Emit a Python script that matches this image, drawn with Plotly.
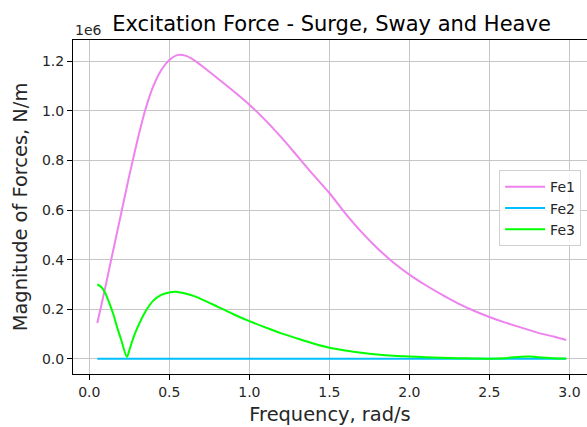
import plotly.graph_objects as go

# Data; forces in N/m
freq = [0.05, 0.075, 0.1, 0.125, 0.15, 0.175, 0.2, 0.235, 0.25, 0.275, 0.3, 0.35, 0.4, 0.45,
        0.5, 0.55, 0.6, 0.65, 0.7, 0.8, 0.9, 1.0, 1.1, 1.2, 1.3, 1.4, 1.5, 1.6, 1.7, 1.8,
        1.9, 2.0, 2.1, 2.2, 2.3, 2.4, 2.5, 2.6, 2.7, 2.75, 2.8, 2.9, 2.98]

fe1_e6 = [0.145, 0.215, 0.29, 0.365, 0.44, 0.515, 0.59, 0.695, 0.74, 0.81, 0.88, 1.005, 1.10, 1.165,
          1.205, 1.225, 1.223, 1.207, 1.183, 1.132, 1.08, 1.025, 0.963, 0.893, 0.818, 0.742, 0.669, 0.587, 0.512, 0.446,
          0.389, 0.34, 0.298, 0.26, 0.225, 0.195, 0.169, 0.146, 0.126, 0.116, 0.106, 0.09, 0.076]

fe2_e6 = [0.0] * len(freq)

fe3_e6 = [0.30, 0.29, 0.265, 0.225, 0.18, 0.125, 0.075, 0.008, 0.035, 0.085, 0.125, 0.19, 0.235, 0.258,
          0.268, 0.27, 0.264, 0.254, 0.241, 0.211, 0.18, 0.152, 0.127, 0.103, 0.082, 0.062, 0.045, 0.034, 0.025, 0.018,
          0.013, 0.010, 0.007, 0.005, 0.003, 0.002, 0.001, 0.003, 0.009, 0.010, 0.007, 0.003, 0.002]

series_names = ["Fe1", "Fe2", "Fe3"]
series_colors = ["#EE82EE", "#00BFFF", "#00FF00"]

y_tick_vals_e6 = [0.0, 0.2, 0.4, 0.6, 0.8, 1.0, 1.2]
y_tick_text = ["0.0", "0.2", "0.4", "0.6", "0.8", "1.0", "1.2"]
x_tick_vals = [0.0, 0.5, 1.0, 1.5, 2.0, 2.5, 3.0]
x_tick_text = ["0.0", "0.5", "1.0", "1.5", "2.0", "2.5", "3.0"]

FONT = "DejaVu Sans"
GRID = "#c6c6c6"

fig = go.Figure()
for name, color, vals in zip(series_names, series_colors, [fe1_e6, fe2_e6, fe3_e6]):
    fig.add_trace(go.Scatter(
        x=freq, y=[v * 1e6 for v in vals], mode="lines", name=name,
        line=dict(color=color, width=2, shape="spline", smoothing=0.9),
    ))

fig.update_layout(
    width=587, height=427,
    margin=dict(l=73, r=0, t=40, b=53),
    paper_bgcolor="white", plot_bgcolor="white",
    font=dict(family=FONT, size=14, color="#262626"),
    title=dict(text="Excitation Force - Surge, Sway and Heave",
               font=dict(family=FONT, size=21, color="black"),
               x=0.503, xref="paper", xanchor="center",
               y=1 - 24 / 427, yref="container", yanchor="middle"),
    xaxis=dict(
        range=[-0.102, 3.11], tickvals=x_tick_vals, ticktext=x_tick_text,
        showgrid=True, gridcolor=GRID, gridwidth=1.2, zeroline=False,
        showline=True, linecolor="black", linewidth=1, mirror=True,
        ticks="outside", ticklen=5, tickcolor="black", tickwidth=1,
        tickfont=dict(family=FONT, size=14, color="#262626"),
        title=dict(text="Frequency, rad/s", font=dict(family=FONT, size=19.4, color="#262626"),
                   standoff=8),
    ),
    yaxis=dict(
        range=[-0.061e6, 1.286e6], tickvals=[v * 1e6 for v in y_tick_vals_e6], ticktext=y_tick_text,
        showgrid=True, gridcolor=GRID, gridwidth=1.2, zeroline=False,
        showline=True, linecolor="black", linewidth=1, mirror=False,
        ticks="outside", ticklen=5, tickcolor="black", tickwidth=1,
        tickfont=dict(family=FONT, size=14, color="#262626"),
        title=dict(text="Magnitude of Forces, N/m", font=dict(family=FONT, size=19.4, color="#262626"),
                   standoff=9),
    ),
    legend=dict(
        x=0.829, y=0.61, xanchor="left", yanchor="top", itemwidth=40,
        bgcolor="rgba(255,255,255,0.8)", bordercolor="#d0d0d0", borderwidth=1,
        font=dict(family=FONT, size=14, color="#262626"),
    ),
    showlegend=True,
)

fig.add_annotation(text="1e6", xref="paper", yref="paper", x=0, y=1,
                   xanchor="left", yanchor="bottom", showarrow=False, yshift=0,
                   font=dict(family=FONT, size=14, color="#262626"))

fig.write_html("out.html")
